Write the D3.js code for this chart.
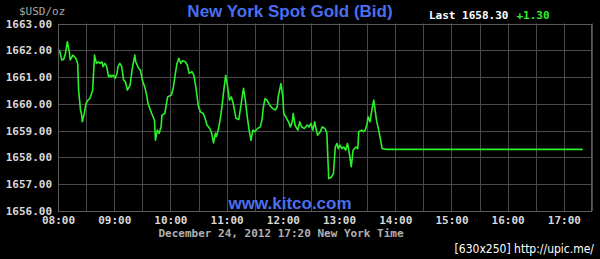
<!DOCTYPE html>
<html>
<head>
<meta charset="utf-8">
<script src="https://cdn.jsdelivr.net/npm/d3@7"></script>
<style>
    html, body { margin: 0; padding: 0; background: #000; }
    svg { display: block; }
    .mono { font-family: "DejaVu Sans Mono", monospace; font-size: 11px; }
</style>
</head>
<body>
<div id="chart"></div>
<script>
// New York spot gold bid, Dec 24 2012
const bidSeries = [
    ["08:00", 1662.04], ["08:02", 1661.95], ["08:04", 1661.64], ["08:06", 1661.66], ["08:08", 1661.89],
    ["08:10", 1662.32], ["08:12", 1661.95], ["08:13", 1661.64], ["08:15", 1661.76], ["08:16", 1661.82],
    ["08:19", 1661.70], ["08:21", 1661.51], ["08:22", 1660.51], ["08:24", 1659.77], ["08:25", 1659.64],
    ["08:26", 1659.33], ["08:28", 1659.64], ["08:30", 1660.02], ["08:32", 1660.14], ["08:34", 1660.20],
    ["08:37", 1660.51], ["08:39", 1661.82], ["08:41", 1661.51], ["08:43", 1661.57], ["08:45", 1661.51],
    ["08:47", 1661.57], ["08:48", 1661.39], ["08:50", 1661.51], ["08:52", 1661.39], ["08:54", 1661.01],
    ["08:56", 1661.07], ["08:57", 1661.01], ["08:59", 1661.07], ["09:01", 1660.95], ["09:03", 1661.14],
    ["09:04", 1661.39], ["09:06", 1661.51], ["09:08", 1661.39], ["09:10", 1660.89], ["09:12", 1660.82],
    ["09:14", 1660.51], ["09:17", 1660.70], ["09:19", 1661.26], ["09:22", 1661.82], ["09:23", 1661.57],
    ["09:26", 1661.33], ["09:28", 1661.26], ["09:30", 1660.89], ["09:33", 1660.58], ["09:35", 1660.26],
    ["09:36", 1660.02], ["09:40", 1659.64], ["09:43", 1659.39], ["09:44", 1658.64], ["09:46", 1659.02],
    ["09:48", 1658.90], ["09:50", 1659.14], ["09:51", 1659.58], ["09:54", 1659.64], ["09:57", 1660.26],
    ["10:01", 1660.33], ["10:03", 1660.58], ["10:05", 1661.07], ["10:07", 1661.51], ["10:09", 1661.70],
    ["10:11", 1661.51], ["10:13", 1661.61], ["10:16", 1661.57], ["10:18", 1661.45], ["10:20", 1661.14],
    ["10:23", 1661.20], ["10:25", 1661.07], ["10:27", 1660.64], ["10:30", 1659.89], ["10:32", 1659.70],
    ["10:35", 1659.64], ["10:37", 1659.46], ["10:39", 1659.21], ["10:42", 1659.08], ["10:44", 1658.90],
    ["10:46", 1658.54], ["10:48", 1658.90], ["10:49", 1658.77], ["10:51", 1659.02], ["10:53", 1659.39],
    ["10:55", 1659.89], ["10:57", 1660.51], ["10:59", 1661.07], ["11:01", 1660.64], ["11:03", 1660.14],
    ["11:05", 1660.26], ["11:07", 1660.02], ["11:10", 1659.46], ["11:13", 1659.42], ["11:15", 1659.89],
    ["11:18", 1660.58], ["11:20", 1660.14], ["11:22", 1659.52], ["11:24", 1659.02], ["11:26", 1658.64],
    ["11:28", 1659.02], ["11:30", 1658.96], ["11:33", 1659.08], ["11:36", 1659.14], ["11:38", 1659.46],
    ["11:39", 1659.83], ["11:41", 1660.20], ["11:43", 1660.14], ["11:46", 1659.95], ["11:49", 1659.83],
    ["11:52", 1659.77], ["11:54", 1659.89], ["11:55", 1660.26], ["11:58", 1660.76], ["12:00", 1660.26],
    ["12:01", 1659.64], ["12:03", 1659.52], ["12:06", 1659.33], ["12:08", 1659.14], ["12:10", 1659.33],
    ["12:11", 1659.64], ["12:13", 1659.21], ["12:16", 1659.02], ["12:18", 1659.33], ["12:20", 1659.14],
    ["12:23", 1659.08], ["12:26", 1659.21], ["12:28", 1659.14], ["12:30", 1659.27], ["12:32", 1659.02],
    ["12:34", 1659.33], ["12:35", 1659.14], ["12:37", 1658.83], ["12:40", 1658.96], ["12:42", 1659.14],
    ["12:45", 1659.08], ["12:47", 1658.90], ["12:48", 1658.02], ["12:49", 1657.21], ["12:52", 1657.27],
    ["12:54", 1657.40], ["12:56", 1658.39], ["12:58", 1658.52], ["12:59", 1658.33], ["13:01", 1658.46],
    ["13:03", 1658.33], ["13:05", 1658.39], ["13:07", 1658.27], ["13:09", 1658.52], ["13:11", 1658.15],
    ["13:13", 1657.65], ["13:15", 1658.27], ["13:18", 1658.39], ["13:20", 1658.33], ["13:21", 1658.96],
    ["13:24", 1659.02], ["13:26", 1658.96], ["13:28", 1659.02], ["13:30", 1659.27], ["13:31", 1659.52],
    ["13:33", 1659.33], ["13:35", 1659.77], ["13:37", 1660.14], ["13:38", 1659.89], ["13:40", 1659.39],
    ["13:43", 1658.90], ["13:46", 1658.33], ["13:50", 1658.30], ["17:20", 1658.30]
];

const yTicks = [1656, 1657, 1658, 1659, 1660, 1661, 1662, 1663];
const xTicks = ["08:00", "09:00", "10:00", "11:00", "12:00", "13:00", "14:00", "15:00", "16:00", "17:00"];
const timeRange = ["08:00", "17:30"];
const lastPrice = "1658.30";
const change = "+1.30";
const stampText = "December 24, 2012 17:20 New York Time";

const width = 600;
const height = 259;
const margin = { top: 23.5, right: 8, bottom: 48, left: 58 };

const parseTime = d3.timeParse("%H:%M");
const data = bidSeries.map(([t, v]) => ({ time: parseTime(t), value: v }));

const svg = d3.select("#chart")
    .append("svg")
    .attr("width", width)
    .attr("height", height)
    .style("background", "#000");

const xScale = d3.scaleTime()
    .domain(timeRange.map(parseTime))
    .range([margin.left, width - margin.right]);

const yScale = d3.scaleLinear()
    .domain([1656, 1663])
    .range([height - margin.bottom, margin.top]);

// grid: horizontal every 1.00, vertical every half hour
const grid = svg.append("g").attr("stroke", "#4a4a4a").attr("stroke-width", 1);

grid.selectAll("line.h")
    .data(yTicks)
    .join("line")
    .attr("class", "h")
    .attr("x1", margin.left)
    .attr("x2", width - margin.right)
    .attr("y1", (d) => Math.round(yScale(d)) + 0.5)
    .attr("y2", (d) => Math.round(yScale(d)) + 0.5);

grid.selectAll("line.v")
    .data(d3.timeMinute.every(30).range(xScale.domain()[0], d3.timeMinute.offset(xScale.domain()[1], 1)))
    .join("line")
    .attr("class", "v")
    .attr("x1", (d) => Math.round(xScale(d)) + 0.5)
    .attr("x2", (d) => Math.round(xScale(d)) + 0.5)
    .attr("y1", margin.top)
    .attr("y2", height - margin.bottom);

// y axis labels
const yAxis = d3.axisLeft(yScale)
    .tickValues(yTicks)
    .tickFormat(d3.format(".2f"))
    .tickSize(0)
    .tickPadding(6);

svg.append("g")
    .attr("transform", `translate(${margin.left}, 0)`)
    .call(yAxis)
    .call((g) => g.select(".domain").remove())
    .call((g) => g.selectAll("text")
        .attr("class", "mono")
        .attr("fill", "#d8d8d8")
        .attr("font-weight", "bold"));

// x axis labels
const xAxis = d3.axisBottom(xScale)
    .tickValues(xTicks.map(parseTime))
    .tickFormat(d3.timeFormat("%H:%M"))
    .tickSize(0)
    .tickPadding(5);

svg.append("g")
    .attr("transform", `translate(0, ${height - margin.bottom})`)
    .call(xAxis)
    .call((g) => g.select(".domain").remove())
    .call((g) => g.selectAll("text")
        .attr("class", "mono")
        .attr("fill", "#d8d8d8")
        .attr("font-weight", "bold"));

// price line
const line = d3.line()
    .x((d) => xScale(d.time))
    .y((d) => yScale(d.value));

svg.append("path")
    .datum(data)
    .attr("fill", "none")
    .attr("stroke", "#2cf02c")
    .attr("stroke-width", 1.6)
    .attr("stroke-linejoin", "round")
    .attr("d", line);

// titles and labels
svg.append("text")
    .attr("x", 290)
    .attr("y", 17)
    .attr("text-anchor", "middle")
    .attr("font-family", "Liberation Sans, Arial, sans-serif")
    .attr("font-weight", "bold")
    .attr("font-size", 17)
    .attr("fill", "#4a6ef0")
    .text("New York Spot Gold (Bid)");

svg.append("text")
    .attr("x", 19)
    .attr("y", 15)
    .attr("class", "mono")
    .attr("fill", "#a8a8a8")
    .text("$USD/oz");

const last = svg.append("text")
    .attr("x", 429)
    .attr("y", 19)
    .attr("class", "mono")
    .attr("font-weight", "bold");
last.append("tspan").attr("fill", "#ffffff").text("Last " + lastPrice);
last.append("tspan").attr("fill", "#33ee33").attr("dx", 8).text(change);

svg.append("text")
    .attr("x", 290)
    .attr("y", 209)
    .attr("text-anchor", "middle")
    .attr("font-family", "Liberation Sans, Arial, sans-serif")
    .attr("font-weight", "bold")
    .attr("font-size", 17)
    .attr("fill", "#4a6ef0")
    .text("www.kitco.com");

svg.append("text")
    .attr("x", 281)
    .attr("y", 237)
    .attr("text-anchor", "middle")
    .attr("class", "mono")
    .attr("fill", "#b0b0b0")
    .attr("font-weight", "bold")
    .text(stampText);

// plot border on top
svg.append("rect")
    .attr("x", margin.left + 0.5)
    .attr("y", Math.round(margin.top) + 0.5)
    .attr("width", width - margin.left - margin.right - 1)
    .attr("height", Math.round(height - margin.bottom) - Math.round(margin.top))
    .attr("fill", "none")
    .attr("stroke", "#5a5a5a");

// watermark
svg.append("text")
    .attr("x", 594)
    .attr("y", 253)
    .attr("text-anchor", "end")
    .attr("font-family", "DejaVu Sans Condensed, sans-serif")
    .attr("font-size", 12)
    .attr("fill", "#ffffff")
    .text("[630x250] http://upic.me/");
</script>
</body>
</html>
